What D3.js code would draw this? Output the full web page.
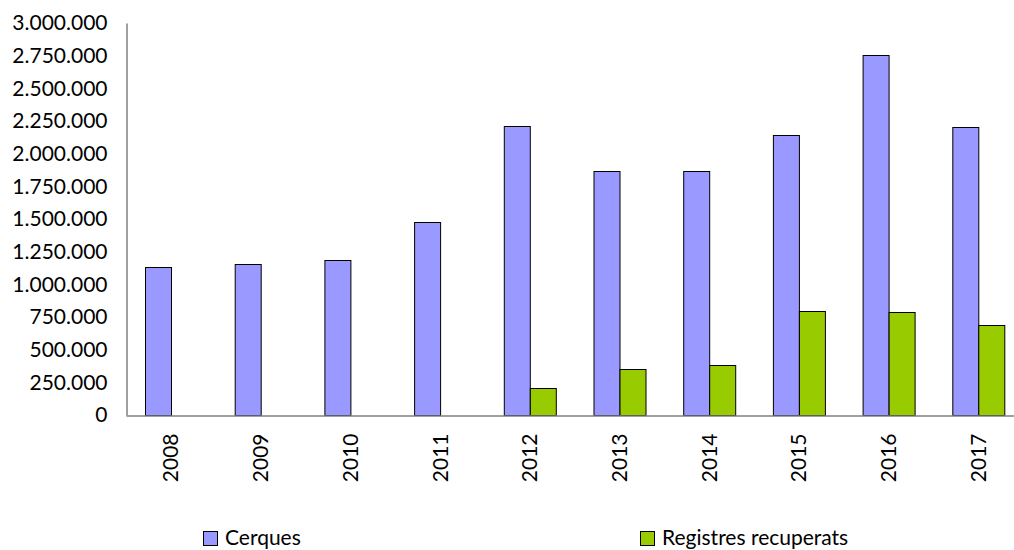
<!DOCTYPE html>
<html>
<head>
<meta charset="utf-8">
<script src="https://cdn.jsdelivr.net/npm/d3@7"></script>
<style>
  body { margin: 0; background: #fff; }
  text { font-family: Lato, "Open Sans", sans-serif; fill: #000; }
</style>
</head>
<body>
<div id="chart"></div>
<script>
// data
var years = ["2008","2009","2010","2011","2012","2013","2014","2015","2016","2017"];
var seriesNames = ["Cerques", "Registres recuperats"];
var cerques = [1135000, 1156000, 1186000, 1475000, 2212000, 1865000, 1867000, 2140000, 2757000, 2202000];
var registres = [0, 0, 0, 0, 209000, 354000, 383000, 798000, 786000, 686000];
var yTicks = [0, 250000, 500000, 750000, 1000000, 1250000, 1500000, 1750000, 2000000, 2250000, 2500000, 2750000, 3000000];
var colors = ["#9999ff", "#99cc00"];

var W = 1014, H = 550;
var margin = {left: 126, right: 1023, top: 23, bottom: 415};

var svg = d3.select("#chart")
  .append("svg")
    .attr("width", W)
    .attr("height", H);

var locale = d3.formatLocale({decimal: ",", thousands: ".", grouping: [3], currency: ["", "€"]});
var fmt = locale.format(",");

var x0 = d3.scaleBand()
  .domain(years)
  .range([margin.left, margin.right]);

var x1 = d3.scaleBand()
  .domain(seriesNames)
  .range([0, x0.bandwidth()])
  .paddingOuter(0.72);

var y = d3.scaleLinear()
  .domain([0, 3000000])
  .range([margin.bottom, margin.top]);

// bars
var rows = years.map(function(yr, i) {
  return {year: yr, values: [
    {name: seriesNames[0], v: cerques[i]},
    {name: seriesNames[1], v: registres[i]}
  ]};
});

var groups = svg.append("g").selectAll("g")
  .data(rows)
  .enter().append("g")
    .attr("transform", function(d) { return "translate(" + x0(d.year) + ",0)"; });

groups.selectAll("rect")
  .data(function(d) { return d.values.filter(function(v) { return v.v > 0; }); })
  .enter().append("rect")
    .attr("x", function(d) { return Math.round(x1(d.name)) + 0.5; })
    .attr("y", function(d) { return Math.round(y(d.v)) + 0.5; })
    .attr("width", Math.round(x1.bandwidth()))
    .attr("height", function(d) { return Math.round(y(0)) - Math.round(y(d.v)); })
    .attr("fill", function(d) { return colors[seriesNames.indexOf(d.name)]; })
    .attr("stroke", "#000")
    .attr("stroke-width", 1);

// y axis
var yAxis = svg.append("g")
  .attr("transform", "translate(" + (margin.left + 0.5) + ",0)")
  .call(d3.axisLeft(y).tickValues(yTicks).tickFormat(fmt).tickSize(0).tickPadding(19));
yAxis.select(".domain").attr("stroke", "#808080").attr("stroke-width", 1.5);
yAxis.selectAll("text").style("font-size", "21px");

// x axis
var xAxis = svg.append("g")
  .attr("transform", "translate(0," + (margin.bottom + 0.5) + ")")
  .call(d3.axisBottom(x0).tickSize(0).tickPadding(0));
xAxis.select(".domain").attr("stroke", "#808080").attr("stroke-width", 1.5);
xAxis.selectAll("text")
  .style("font-size", "21px")
  .attr("text-anchor", "end")
  .attr("dy", "0.36em")
  .attr("transform", "translate(0,18) rotate(-90)")
  .attr("x", 0)
  .attr("y", 0);

// legend
var legendX = [203, 640];
var legend = svg.append("g").selectAll("g")
  .data(seriesNames)
  .enter().append("g")
    .attr("transform", function(d, i) { return "translate(" + legendX[i] + ",531)"; });
legend.append("rect")
  .attr("x", 0.5).attr("y", 0.5)
  .attr("width", 14).attr("height", 14)
  .attr("fill", function(d, i) { return colors[i]; })
  .attr("stroke", "#000");
legend.append("text")
  .attr("x", 22)
  .attr("y", 14)
  .style("font-size", "21px")
  .text(function(d) { return d; });
</script>
</body>
</html>
